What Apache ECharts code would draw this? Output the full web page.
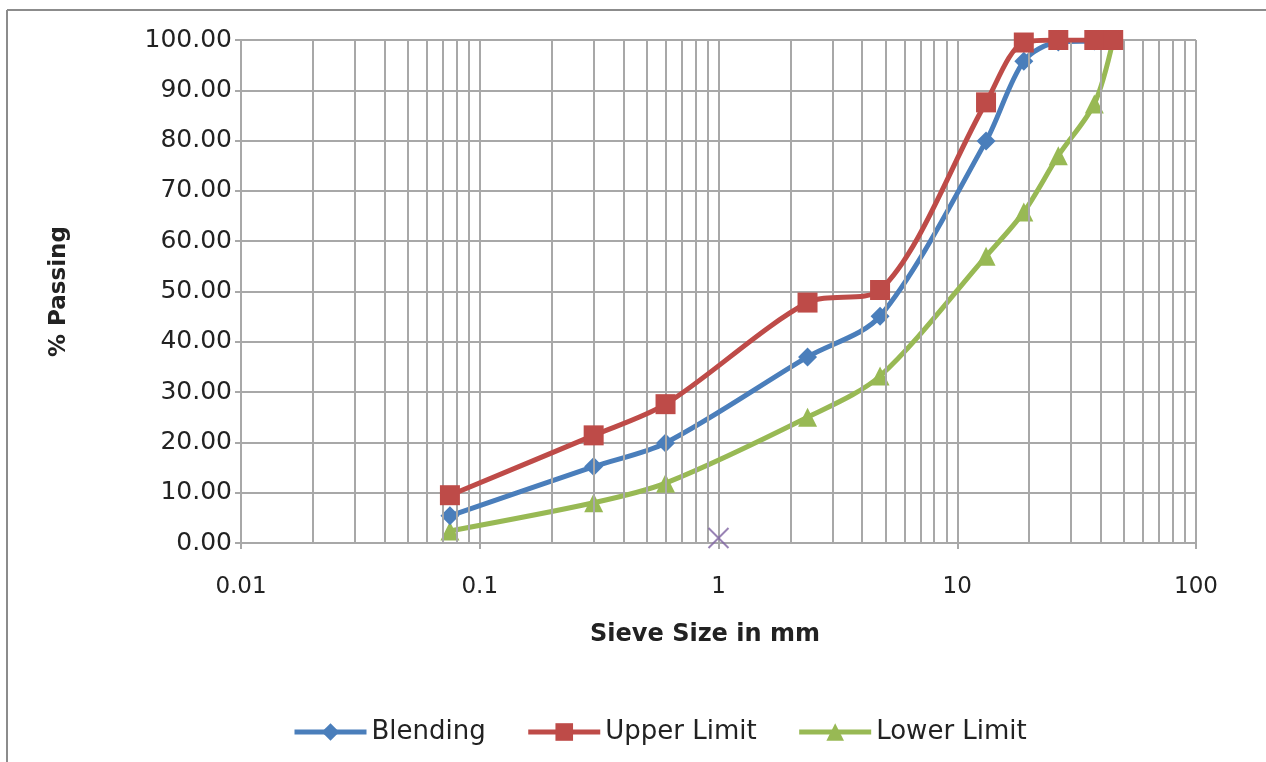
<!DOCTYPE html>
<html>
<head>
<meta charset="utf-8">
<title>Sieve Analysis</title>
<script src="https://cdn.jsdelivr.net/npm/echarts@6/dist/echarts.min.js"></script>
<style>
  html, body { margin: 0; padding: 0; background: #fff; }
  #chart { width: 1266px; height: 762px; }
</style>
</head>
<body>
<div id="chart"></div>
<script>
// Sieve sizes (mm) and percent passing for each gradation curve
const sieveSizes = [0.075, 0.3, 0.6, 2.36, 4.75, 13.2, 19, 26.5, 37.5, 45];
const blending   = [5.4, 15.2, 19.9, 37.0, 45.1, 79.9, 95.8, 99.6, 99.8, 100.0];
const upperLimit = [9.5, 21.4, 27.6, 47.8, 50.3, 87.6, 99.5, 100.0, 100.0, 100.0];
const lowerLimit = [2.4, 8.0, 11.9, 25.0, 33.2, 57.0, 65.8, 77.0, 87.3, 100.0];
const extraPoint = [[1, 1.0]];
const yTicks = [0, 10, 20, 30, 40, 50, 60, 70, 80, 90, 100];

const pairs = (xs, ys) => xs.map((x, i) => [x, ys[i]]);

// minor log grid lines (2..9 within each decade)
const minorLines = [];
[0.01, 0.1, 1, 10].forEach(d => {
  for (let m = 2; m <= 9; m++) minorLines.push({ xAxis: +(d * m).toPrecision(3) });
});

const GRID = '#a8a8a8';
const FONT = 'DejaVu Sans';

const chart = echarts.init(document.getElementById('chart'));
chart.setOption({
  animation: false,
  backgroundColor: '#ffffff',
  grid: { left: 241, right: 70, top: 40, bottom: 219, containLabel: false, show: false },
  xAxis: {
    type: 'log',
    logBase: 10,
    min: 0.01,
    max: 100,
    name: 'Sieve Size in mm',
    nameLocation: 'middle',
    nameGap: 80,
    nameTextStyle: { fontFamily: FONT, fontSize: 24, fontWeight: 'bold', color: '#222', padding: [0, 27, 0, 0] },
    axisLine: { show: true, onZero: false, lineStyle: { color: GRID, width: 2 } },
    axisTick: { show: true, length: 6, lineStyle: { color: GRID, width: 2 } },
    axisLabel: { fontFamily: FONT, fontSize: 23, color: '#222', margin: 33,
      formatter: v => String(+v.toPrecision(3)) },
    splitLine: { show: true, lineStyle: { color: GRID, width: 2 } }
  },
  yAxis: {
    type: 'value',
    min: 0,
    max: 100,
    interval: 10,
    name: '% Passing',
    nameLocation: 'middle',
    nameGap: 170,
    nameTextStyle: { fontFamily: FONT, fontSize: 23, fontWeight: 'bold', color: '#222' },
    axisLine: { show: true, lineStyle: { color: GRID, width: 2 } },
    axisTick: { show: true, length: 6, lineStyle: { color: GRID, width: 2 } },
    axisLabel: { fontFamily: FONT, fontSize: 25, color: '#222', margin: 9,
      formatter: v => yTicks.includes(v) ? v.toFixed(2) : '' },
    splitLine: { show: true, lineStyle: { color: GRID, width: 2 } }
  },
  legend: {
    bottom: 12,
    left: 287,
    data: ['Blending', 'Upper Limit', 'Lower Limit'],
    itemWidth: 72,
    itemHeight: 22,
    itemGap: 40,
    lineStyle: { width: 5 },
    textStyle: { fontFamily: FONT, fontSize: 26, color: '#222' }
  },
  graphic: [
    { type: 'line', shape: { x1: 7, y1: 10, x2: 1266, y2: 10 }, style: { stroke: '#8c8c8c', lineWidth: 2 } },
    { type: 'line', shape: { x1: 7, y1: 10, x2: 7, y2: 762 }, style: { stroke: '#8c8c8c', lineWidth: 2 } }
  ],
  series: [
    {
      name: 'grid-minor',
      type: 'line',
      data: [],
      silent: true,
      markLine: {
        silent: true,
        symbol: 'none',
        label: { show: false },
        lineStyle: { color: GRID, width: 2, type: 'solid' },
        data: minorLines
      }
    },
    {
      name: 'Lower Limit',
      type: 'line',
      data: pairs(sieveSizes, lowerLimit),
      smooth: 0.3,
      symbol: 'triangle',
      symbolSize: 19,
      color: '#98b954',
      lineStyle: { width: 5, color: '#98b954' },
      itemStyle: { color: '#98b954' },
      z: 3
    },
    {
      name: 'Blending',
      type: 'line',
      data: pairs(sieveSizes, blending),
      smooth: 0.3,
      symbol: 'diamond',
      symbolSize: 19,
      color: '#4a7ebb',
      lineStyle: { width: 5, color: '#4a7ebb' },
      itemStyle: { color: '#4a7ebb' },
      z: 4
    },
    {
      name: 'Upper Limit',
      type: 'line',
      data: pairs(sieveSizes, upperLimit),
      smooth: 0.3,
      symbol: 'rect',
      symbolSize: 20,
      color: '#be4b48',
      lineStyle: { width: 5, color: '#be4b48' },
      itemStyle: { color: '#be4b48' },
      z: 5
    },
    {
      name: 'Point',
      type: 'scatter',
      data: extraPoint,
      symbol: 'path://M0,0 L10,10 M10,0 L0,10',
      symbolSize: 20,
      itemStyle: { color: 'rgba(0,0,0,0)', borderColor: '#8064a2', borderWidth: 2 },
      z: 6
    }
  ]
});
</script>
</body>
</html>
